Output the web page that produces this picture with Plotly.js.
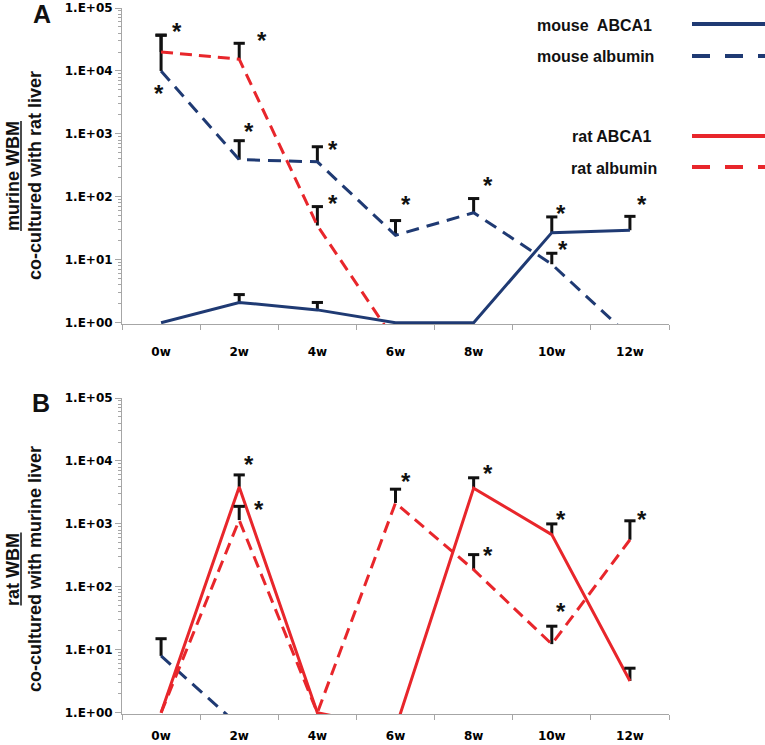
<!DOCTYPE html>
<html><head><meta charset="utf-8">
<script src="https://cdn.plot.ly/plotly-3.0.1.min.js"></script>
<style>html,body{margin:0;padding:0;background:#fff}</style>
</head><body><div id="chart" style="width:765px;height:745px"></div>
<script>
// ---------- data ----------
const categories = ['0w','2w','4w','6w','8w','10w','12w'];
const yTickVals = [1,10,100,1000,10000,100000];
const yTickText = ['1.E+00','1.E+01','1.E+02','1.E+03','1.E+04','1.E+05'];

// Panel A: murine WBM co-cultured with rat liver
const aMouseAbca1    = [1, 2.1, 1.6, 1, 1, 27, 29.5];
const aMouseAbca1Err = [null, 0.7, 0.5, null, null, 21, 19.5];
const aMouseAlb      = [10000, 390, 360, 24.5, 56, 8.5, 0.6];
const aMouseAlbErr   = [27000, 390, 265, 17.5, 38, 4.2, null];
const aRatAlb        = [20000, 15400, 35, 0.5, null, null, null];
const aRatAlbErr     = [17000, 12100, 35, null, null, null, null];

// Panel B: rat WBM co-cultured with murine liver
const bRatAbca1    = [1, 3870, 1, 0.56, 3700, 675, 3.2];
const bRatAbca1Err = [null, 2130, null, null, 1700, 325, 1.9];
const bRatAlb      = [1, 1150, 1, 2150, 187, 12.3, 560];
const bRatAlbErr   = [null, 750, null, 1410, 138, 11.4, 560];
const bMouseAlb    = [8, 0.62, null, null, null, null, null];
const bMouseAlbErr = [7, null, null, null, null, null, null];

// significance markers (category index, log10 position)
const starsAX = [0.2, -0.03, 1.29, 1.13, 2.2, 2.2, 3.13, 4.18, 5.12, 5.14, 6.16];
const starsAY = [4.69, 3.70, 4.55, 3.10, 2.81, 1.96, 1.94, 2.24, 1.80, 1.22, 1.94];
const starsBX = [1.13, 1.25, 3.13, 4.18, 4.18, 5.12, 5.12, 6.16];
const starsBY = [4.01, 3.29, 3.73, 3.87, 2.56, 3.13, 1.67, 3.14];

const legendLabels = ['mouse  ABCA1', 'mouse albumin', 'rat ABCA1', 'rat albumin'];
const titleA = ['murine WBM', 'co-cultured with rat liver'];
const titleB = ['rat WBM', 'co-cultured with murine liver'];

// ---------- styling ----------
const NAVY = '#1F3A73', RED = '#E8262B', AXIS = '#A6A6A6';
const DASH_BLUE = '13px,8px', DASH_RED = '12px,7px';
const W = 765, H = 745, L = 122, R = 96, T = 8, B = 31;
const PW = W - L - R, PH = H - T - B;
const fx = p => (p - L) / PW;
const fy = p => (H - B - p) / PH;

function lineTrace(y, err, color, dash, xa, ya) {
  return {
    x: categories, y: y, type: 'scatter', mode: 'lines',
    line: {color: color, width: 3, dash: dash},
    error_y: {type: 'data', symmetric: false, array: err,
              arrayminus: err.map(e => e == null ? null : 0),
              color: '#111', thickness: 3, width: 0},
    xaxis: xa, yaxis: ya, showlegend: false, hoverinfo: 'skip'
  };
}
function capTrace(y, err, xa, ya) {
  return {
    x: categories,
    y: y.map((v, i) => (v == null || err[i] == null) ? null : v + err[i]),
    type: 'scatter', mode: 'markers',
    marker: {symbol: 'line-ew', size: 8, color: '#111', line: {width: 3, color: '#111'}},
    xaxis: xa, yaxis: ya, showlegend: false, hoverinfo: 'skip'
  };
}

const data = [
  lineTrace(aMouseAbca1, aMouseAbca1Err, NAVY, 'solid', 'x', 'y'),
  lineTrace(aMouseAlb, aMouseAlbErr, NAVY, DASH_BLUE, 'x', 'y'),
  lineTrace(aRatAlb, aRatAlbErr, RED, DASH_RED, 'x', 'y'),
  capTrace(aMouseAbca1, aMouseAbca1Err, 'x', 'y'),
  capTrace(aMouseAlb, aMouseAlbErr, 'x', 'y'),
  capTrace(aRatAlb, aRatAlbErr, 'x', 'y'),
  lineTrace(bMouseAlb, bMouseAlbErr, NAVY, DASH_BLUE, 'x2', 'y2'),
  lineTrace(bRatAbca1, bRatAbca1Err, RED, 'solid', 'x2', 'y2'),
  lineTrace(bRatAlb, bRatAlbErr, RED, DASH_RED, 'x2', 'y2'),
  capTrace(bMouseAlb, bMouseAlbErr, 'x2', 'y2'),
  capTrace(bRatAbca1, bRatAbca1Err, 'x2', 'y2'),
  capTrace(bRatAlb, bRatAlbErr, 'x2', 'y2')
];

const minorVals = [];
for (let d = 0; d < 5; d++) for (let k = 2; k <= 9; k++) minorVals.push(k * Math.pow(10, d));

const tickFont = {family: 'DejaVu Sans', size: 12, weight: 'bold', color: '#000'};
function xAxis(anchor, standoff) {
  return {anchor: anchor, type: 'category', categoryorder: 'array', categoryarray: categories,
    range: [-0.5, 6.5], showline: true, linecolor: AXIS, linewidth: 1,
    ticks: 'outside', tickson: 'boundaries', ticklen: 5, tickcolor: AXIS,
    showgrid: false, zeroline: false, tickfont: tickFont, ticklabelstandoff: standoff, fixedrange: true};
}
function yAxis(anchor, domain) {
  return {anchor: anchor, domain: domain, type: 'log', range: [-0.02, 5],
    tickmode: 'array', tickvals: yTickVals, ticktext: yTickText,
    showline: true, linecolor: AXIS, linewidth: 1, ticks: 'outside', ticklen: 6, tickcolor: AXIS,
    minor: {tickmode: 'array', tickvals: minorVals, ticks: 'outside', ticklen: 3, tickcolor: AXIS, showgrid: false},
    showgrid: false, zeroline: false, tickfont: tickFont, fixedrange: true};
}

const starFont = {family: 'Liberation Sans', size: 24, weight: 'bold', color: '#111'};
const annotations = [];
starsAX.forEach((x, i) => annotations.push({xref: 'x', yref: 'y', x: x, y: starsAY[i], text: '*',
  showarrow: false, font: starFont, yshift: -4, xanchor: 'center', yanchor: 'middle'}));
starsBX.forEach((x, i) => annotations.push({xref: 'x2', yref: 'y2', x: x, y: starsBY[i], text: '*',
  showarrow: false, font: starFont, yshift: -4, xanchor: 'center', yanchor: 'middle'}));

function paperText(text, px, py, font, angle) {
  return {xref: 'paper', yref: 'paper', x: fx(px), y: fy(py), text: text, showarrow: false,
    font: font, xanchor: 'center', yanchor: 'middle', textangle: angle || 0};
}

const TITLE_SIZE = 18;
const titleFont = {family: 'Liberation Sans', size: TITLE_SIZE, weight: 'bold', color: '#111'};
const shapes = [];
const ctx = document.createElement('canvas').getContext('2d');
ctx.font = 'bold ' + TITLE_SIZE + 'px "Liberation Sans"';
function yTitle(lines, cy) {
  annotations.push(paperText(lines[0], 13, cy, titleFont, -90));
  annotations.push(paperText(lines[1], 35, cy, titleFont, -90));
  const half = ctx.measureText(lines[0]).width / 2;
  shapes.push({type: 'line', xref: 'paper', yref: 'paper', x0: fx(21), x1: fx(21),
    y0: fy(cy - half), y1: fy(cy + half), line: {color: '#111', width: 1.5}});
}
yTitle(titleA, 176);
yTitle(titleB, 569);

const panelFont = {family: 'Liberation Sans', size: 25, weight: 'bold', color: '#111'};
annotations.push(paperText('A', 42, 14, panelFont));
annotations.push(paperText('B', 41, 403, panelFont));

const legFont = {family: 'Liberation Sans', size: 16, weight: 'bold', color: '#111'};
const legTextX = [594, 595, 612, 614];
const legY = [25, 57, 137, 168];
const legColors = [NAVY, NAVY, RED, RED];
const legDash = ['solid', '18px,15px', 'solid', '18px,15px'];
legendLabels.forEach((t, i) => {
  annotations.push(paperText(t, legTextX[i], legY[i], legFont));
  shapes.push({type: 'line', xref: 'paper', yref: 'paper', x0: fx(692), x1: fx(775),
    y0: fy(legY[i] - 1), y1: fy(legY[i] - 1), line: {color: legColors[i], width: 4, dash: legDash[i]}});
});

const layout = {
  width: W, height: H, margin: {l: L, r: R, t: T, b: B},
  paper_bgcolor: '#fff', plot_bgcolor: '#fff', showlegend: false,
  xaxis: xAxis('y', 17), yaxis: yAxis('x', [fy(324), 1]),
  xaxis2: xAxis('y2', 11), yaxis2: yAxis('x2', [0, fy(398)]),
  annotations: annotations, shapes: shapes
};

Plotly.newPlot('chart', data, layout, {displayModeBar: false, staticPlot: true});
</script></body></html>
